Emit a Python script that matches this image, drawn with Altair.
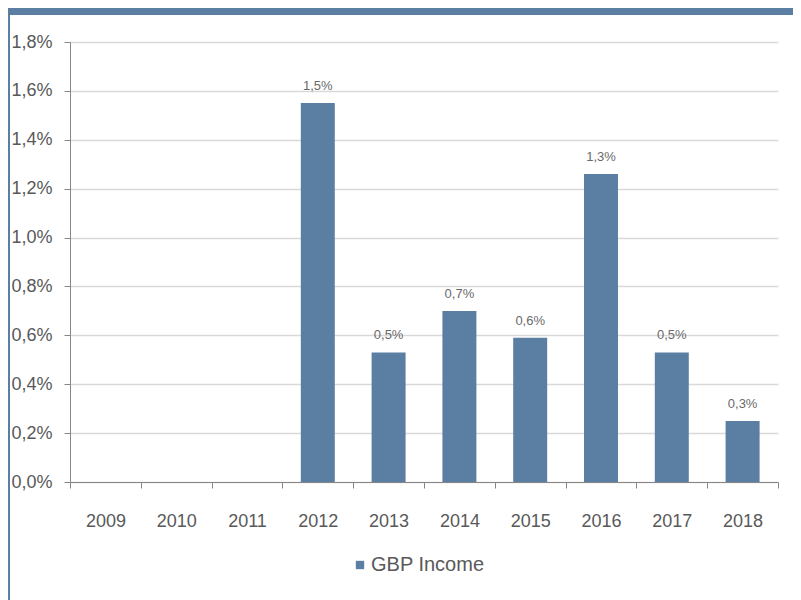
import altair as alt
import pandas as pd

years = ["2009", "2010", "2011", "2012", "2013", "2014", "2015", "2016", "2017", "2018"]
values = [None, None, None, 0.0155, 0.0053, 0.0070, 0.0059, 0.0126, 0.0053, 0.0025]
labels = ["", "", "", "1,5%", "0,5%", "0,7%", "0,6%", "1,3%", "0,5%", "0,3%"]
y_ticks = [0.0, 0.002, 0.004, 0.006, 0.008, 0.010, 0.012, 0.014, 0.016, 0.018]
series = "GBP Income"

df = pd.DataFrame({"year": years, "value": values, "label": labels, "series": series})
bars_df = df.dropna(subset=["value"])

W, H = 708, 440
PL, PT, PR, PB = 62, 34, 15, 118
BLUE = "#5b7fa3"
TXT = "#595959"

x = alt.X("year:N", sort=years, scale=alt.Scale(domain=years, paddingInner=0, paddingOuter=0),
          axis=alt.Axis(title=None, labelAngle=0, tickBand="extent", labelFontSize=18,
                        labelColor=TXT, labelFont="Liberation Sans", labelPadding=24,
                        domainColor="#868686", tickColor="#868686", tickSize=6, grid=False))
y = alt.Y("value:Q", scale=alt.Scale(domain=[0, 0.018], nice=False),
          axis=alt.Axis(title=None, values=y_ticks,
                        labelExpr="replace(format(datum.value, '.1%'), '.', ',')",
                        labelFontSize=18, labelColor=TXT, labelFont="Liberation Sans",
                        labelPadding=12, domainColor="#868686", tickColor="#868686",
                        tickSize=6, gridColor="#d9d9d9", gridWidth=1.5))

bars = alt.Chart(bars_df).mark_bar(width=alt.RelativeBandSize(0.48), color=BLUE).encode(
    x=x, y=y,
    color=alt.Color("series:N", scale=alt.Scale(domain=[series], range=[BLUE]),
                    legend=alt.Legend(title=None, orient="none", legendX=280, legendY=513,
                                      symbolType="square", symbolSize=70, labelFontSize=20,
                                      labelColor=TXT, labelFont="Liberation Sans",
                                      symbolStrokeWidth=0, labelOffset=1))
)

text = alt.Chart(bars_df).mark_text(baseline="bottom", dy=-10, fontSize=13, color="#6a6a6a",
                                    font="Liberation Sans").encode(
    x=alt.X("year:N", sort=years, scale=alt.Scale(domain=years)),
    y=alt.Y("value:Q"), text="label:N")

band = alt.Chart(df).mark_rect(color=BLUE).encode(
    x=alt.value(-PL), x2=alt.value(W + PR), y=alt.value(-PT), y2=alt.value(-PT + 7))
left = alt.Chart(df).mark_rule(color=BLUE, strokeWidth=2).encode(
    x=alt.value(-PL + 0.5), y=alt.value(-PT), y2=alt.value(H + PB))

chart = alt.layer(bars, text, band, left).properties(
    width=W, height=H,
    background="white",
    autosize=alt.AutoSizeParams(type="none"),
    padding={"left": PL, "top": PT, "right": PR, "bottom": PB},
).configure_view(strokeWidth=0, stroke="transparent")

chart.save("out.html", embed_options={"renderer": "svg", "actions": False})
